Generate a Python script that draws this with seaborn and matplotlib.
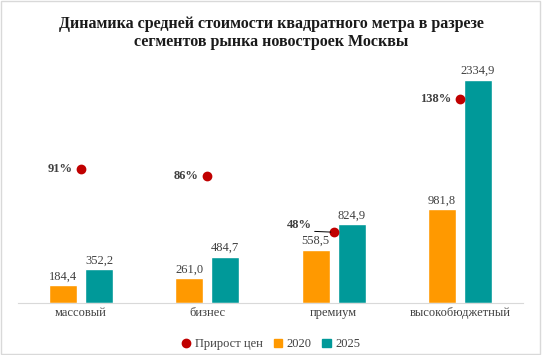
import seaborn as sns
import matplotlib.pyplot as plt
import pandas as pd
from matplotlib.lines import Line2D
from matplotlib.patches import Patch, Rectangle

# Data
segments = ['массовый', 'бизнес', 'премиум', 'высокобюджетный']
price_2020 = [184.4, 261.0, 558.5, 981.8]
price_2025 = [352.2, 484.7, 824.9, 2334.9]
growth = [91, 86, 48, 138]
years = ['2020', '2025']

orange = '#FF9900'
teal = '#009999'
red = '#C00000'
txt = '#404040'

sns.set_style('white')
plt.rcParams['font.family'] = ['Liberation Serif', 'DejaVu Serif']

df = pd.DataFrame({
    'segment': segments * 2,
    'year': [years[0]] * 4 + [years[1]] * 4,
    'price': price_2020 + price_2025,
})

fig = plt.figure(figsize=(5.42, 3.55), dpi=100)
ax = fig.add_axes([0.033, 0.1465, 0.932, 0.673])

sns.barplot(data=df, x='segment', y='price', hue='year', order=segments,
            hue_order=years, palette=[orange, teal], width=0.57, gap=0.22,
            saturation=1, ax=ax, legend=False)

for cont, vals in zip(ax.containers, [price_2020, price_2025]):
    ax.bar_label(cont, labels=[f'{v:.1f}'.replace('.', ',') for v in vals],
                 padding=2, fontsize=9, color=txt)

ax.set_ylim(0, 2500)
ax.set_xlim(-0.5, 3.5)
ax.set_xlabel('')
ax.set_ylabel('')
ax.set_yticks([])
ax.tick_params(axis='x', length=0, labelsize=9, labelcolor=txt, pad=3)
for s in ['top', 'right', 'left']:
    ax.spines[s].set_visible(False)
ax.spines['bottom'].set_color('#d9d9d9')

ax2 = ax.twinx()
sns.pointplot(x=segments, y=growth, ax=ax2, color=red, linestyle='none',
              markers='o', markersize=5, errorbar=None)
ax2.set_ylim(0, 162)
ax2.set_yticks([])
ax2.set_ylabel('')
for s in ax2.spines.values():
    s.set_visible(False)

for i, g in enumerate(growth):
    if i == 2:
        ax2.annotate(f'{g}%', xy=(i, g), xytext=(-16, 5), textcoords='offset points',
                     ha='right', va='center', fontsize=9, fontweight='bold', color=txt,
                     arrowprops=dict(arrowstyle='-', color='black', lw=0.7,
                                     shrinkA=0, shrinkB=2,
                                     relpos=(1.0, 0.0)))
    else:
        ax2.annotate(f'{g}%', xy=(i, g), xytext=(-6, 0), textcoords='offset points',
                     ha='right', va='center', fontsize=9, fontweight='bold', color=txt)

handles = [
    Line2D([], [], marker='o', linestyle='none', color=red, markersize=6),
    Patch(color=orange),
    Patch(color=teal),
]
fig.legend(handles, ['Прирост цен'] + years, loc='center', bbox_to_anchor=(0.5, 0.03),
           ncol=3, frameon=False, fontsize=9, handlelength=0.7, handleheight=0.7,
           handletextpad=0.3, columnspacing=0.9, labelcolor=txt)

fig.suptitle('Динамика средней стоимости квадратного метра в разрезе\n'
             'сегментов рынка новостроек Москвы',
             y=0.955, va='top', fontsize=11.5, fontweight='bold', color='#1a1a1a',
             linespacing=1.15)

fig.patches.append(Rectangle((0.002, 0.003), 0.995, 0.994, transform=fig.transFigure,
                             fill=False, edgecolor='#d9d9d9', lw=1))

fig.savefig('out.png', dpi=100)
